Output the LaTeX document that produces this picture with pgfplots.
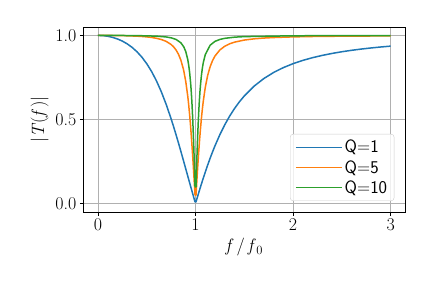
\documentclass[border=0pt]{standalone}
\usepackage{fontspec}
\usepackage{pgfplots}
\pgfplotsset{compat=1.18}
\definecolor{c0}{HTML}{1F77B4}
\definecolor{c1}{HTML}{FF7F0E}
\definecolor{c2}{HTML}{2CA02C}
\definecolor{gridc}{HTML}{B0B0B0}
\definecolor{legc}{HTML}{CCCCCC}
\begin{document}
\begin{tikzpicture}
\path[use as bounding box] (0,0) rectangle (432bp,288bp);
\begin{axis}[
  at={(83.3bp,76bp)}, anchor=south west,
  scale only axis, width=322bp, height=185bp,
  xmin=-0.15, xmax=3.15, ymin=-0.05, ymax=1.05,
  xtick={0,1,2,3}, ytick={0,0.5,1},
  /pgf/number format/assume math mode=true,
  yticklabel style={/pgf/number format/fixed,/pgf/number format/fixed zerofill,/pgf/number format/precision=1},
  tick label style={font=\rmfamily\fontsize{18}{22}\selectfont},
  label style={font=\rmfamily\fontsize{18}{22}\selectfont},
  tick align=outside, tick pos=left, major tick length=3.5bp,
  every tick/.style={black, line width=0.8bp},
  axis line style={black, line width=0.8bp},
  grid=major, major grid style={gridc, line width=0.8bp},
  xlabel={\textit{f}\,/\,\textit{f}\kern0.5pt\textsubscript{0}},
  ylabel={|\textit{T}(\textit{f}\kern1.5pt)|},
  legend style={at={(1,0)}, anchor=south east, xshift=-11bp, yshift=11bp,
    draw=legc, rounded corners=3bp, fill=white, fill opacity=0.8, text opacity=1,
    font=\sffamily\fontsize{18}{22}\selectfont, inner xsep=5bp, inner ysep=4bp, row sep=2bp},
  legend cell align=left,
]
\addlegendimage{legend image code/.code={\draw[c0, line width=1.5bp, sharp corners] (0bp,0bp) -- (46bp,0bp);}}
\addlegendentry{Q=1}
\addlegendimage{legend image code/.code={\draw[c1, line width=1.5bp, sharp corners] (0bp,0bp) -- (46bp,0bp);}}
\addlegendentry{Q=5}
\addlegendimage{legend image code/.code={\draw[c2, line width=1.5bp, sharp corners] (0bp,0bp) -- (46bp,0bp);}}
\addlegendentry{Q=10}
\addplot[c0, line width=1.5bp, line join=round, forget plot] coordinates {
(0,1) (0.05,0.99875) (0.1,0.99494) (0.15,0.98843) (0.2,0.97898) (0.25,0.96623)
(0.3,0.94972) (0.35,0.92885) (0.4,0.90287) (0.45,0.87093) (0.5,0.83205)
(0.55,0.78525) (0.6,0.72954) (0.65,0.66418) (0.7,0.58886) (0.75,0.50387)
(0.775,0.45808) (0.8,0.41036) (0.825,0.36101) (0.85,0.31035) (0.875,0.25874)
(0.9,0.20656) (0.925,0.15421) (0.95,0.10210) (0.995,0.010025) (1.005,0.009975)
(1.025,0.04933) (1.05,0.09716) (1.075,0.14327) (1.1,0.18752) (1.125,0.22979)
(1.15,0.27002) (1.175,0.30817) (1.2,0.34426) (1.25,0.41036) (1.3,0.46882)
(1.35,0.52029) (1.4,0.56553) (1.45,0.60526) (1.5,0.64018) (1.6,0.69810)
(1.7,0.74349) (1.8,0.77950) (1.9,0.80847) (2.0,0.83205) (2.1,0.85148)
(2.2,0.86769) (2.3,0.88133) (2.4,0.89292) (2.5,0.90287) (2.6,0.91146)
(2.7,0.91893) (2.8,0.92546) (2.9,0.93122) (3.0,0.93633)
};
\addplot[c1, line width=1.5bp, line join=round, forget plot] coordinates {
(0,1) (0.1,0.99980) (0.2,0.99913) (0.3,0.99784) (0.4,0.99550) (0.45,0.99369)
(0.5,0.99123) (0.55,0.98779) (0.6,0.98287) (0.65,0.97559) (0.7,0.96433)
(0.75,0.94592) (0.775,0.93225) (0.8,0.91381) (0.825,0.88845) (0.85,0.85276)
(0.875,0.80129) (0.88,0.78845) (0.9,0.72595) (0.92,0.64085) (0.925,0.61523)
(0.93,0.58768) (0.94,0.52642) (0.95,0.45655) (0.96,0.37803) (0.97,0.29142)
(0.975,0.24546) (0.98,0.19804) (0.985,0.14945) (0.99,0.10000) (0.995,0.05006)
(1.005,0.04981) (1.01,0.09902) (1.015,0.14727) (1.02,0.19427) (1.025,0.23975)
(1.03,0.28350) (1.04,0.36521) (1.05,0.43864) (1.06,0.50367) (1.07,0.56067)
(1.075,0.58635) (1.08,0.61028) (1.1,0.69048) (1.125,0.76305) (1.15,0.81416)
(1.175,0.85089) (1.2,0.87790) (1.25,0.91381) (1.3,0.93577) (1.35,0.95012)
(1.4,0.96000) (1.5,0.97239) (1.6,0.97962) (1.7,0.98421) (1.8,0.98733)
(2.0,0.99123) (2.2,0.99350) (2.5,0.99550) (3.0,0.99720)
};
\addplot[c2, line width=1.5bp, line join=round, forget plot] coordinates {
(0,1) (0.2,0.99978) (0.4,0.99887) (0.6,0.99563) (0.7,0.99071) (0.75,0.98562)
(0.8,0.97619) (0.85,0.95614) (0.88,0.93163) (0.9,0.90372) (0.92,0.85794)
(0.93,0.82370) (0.94,0.77804) (0.95,0.71613) (0.955,0.67754) (0.96,0.63254)
(0.965,0.58038) (0.97,0.52031) (0.975,0.45178) (0.98,0.37465) (0.985,0.28935)
(0.99,0.19707) (0.995,0.09975) (1.005,0.09926) (1.01,0.19518) (1.015,0.28540)
(1.02,0.36824) (1.025,0.44283) (1.03,0.50896) (1.035,0.56690) (1.04,0.61728)
(1.045,0.66089) (1.05,0.69854) (1.06,0.75908) (1.07,0.80444) (1.08,0.83881)
(1.1,0.88584) (1.15,0.94191) (1.2,0.96476) (1.25,0.97619) (1.3,0.98271)
(1.4,0.98953) (1.5,0.99288) (2.0,0.99779) (3.0,0.99930)
};
\end{axis}
\end{tikzpicture}
\end{document}
